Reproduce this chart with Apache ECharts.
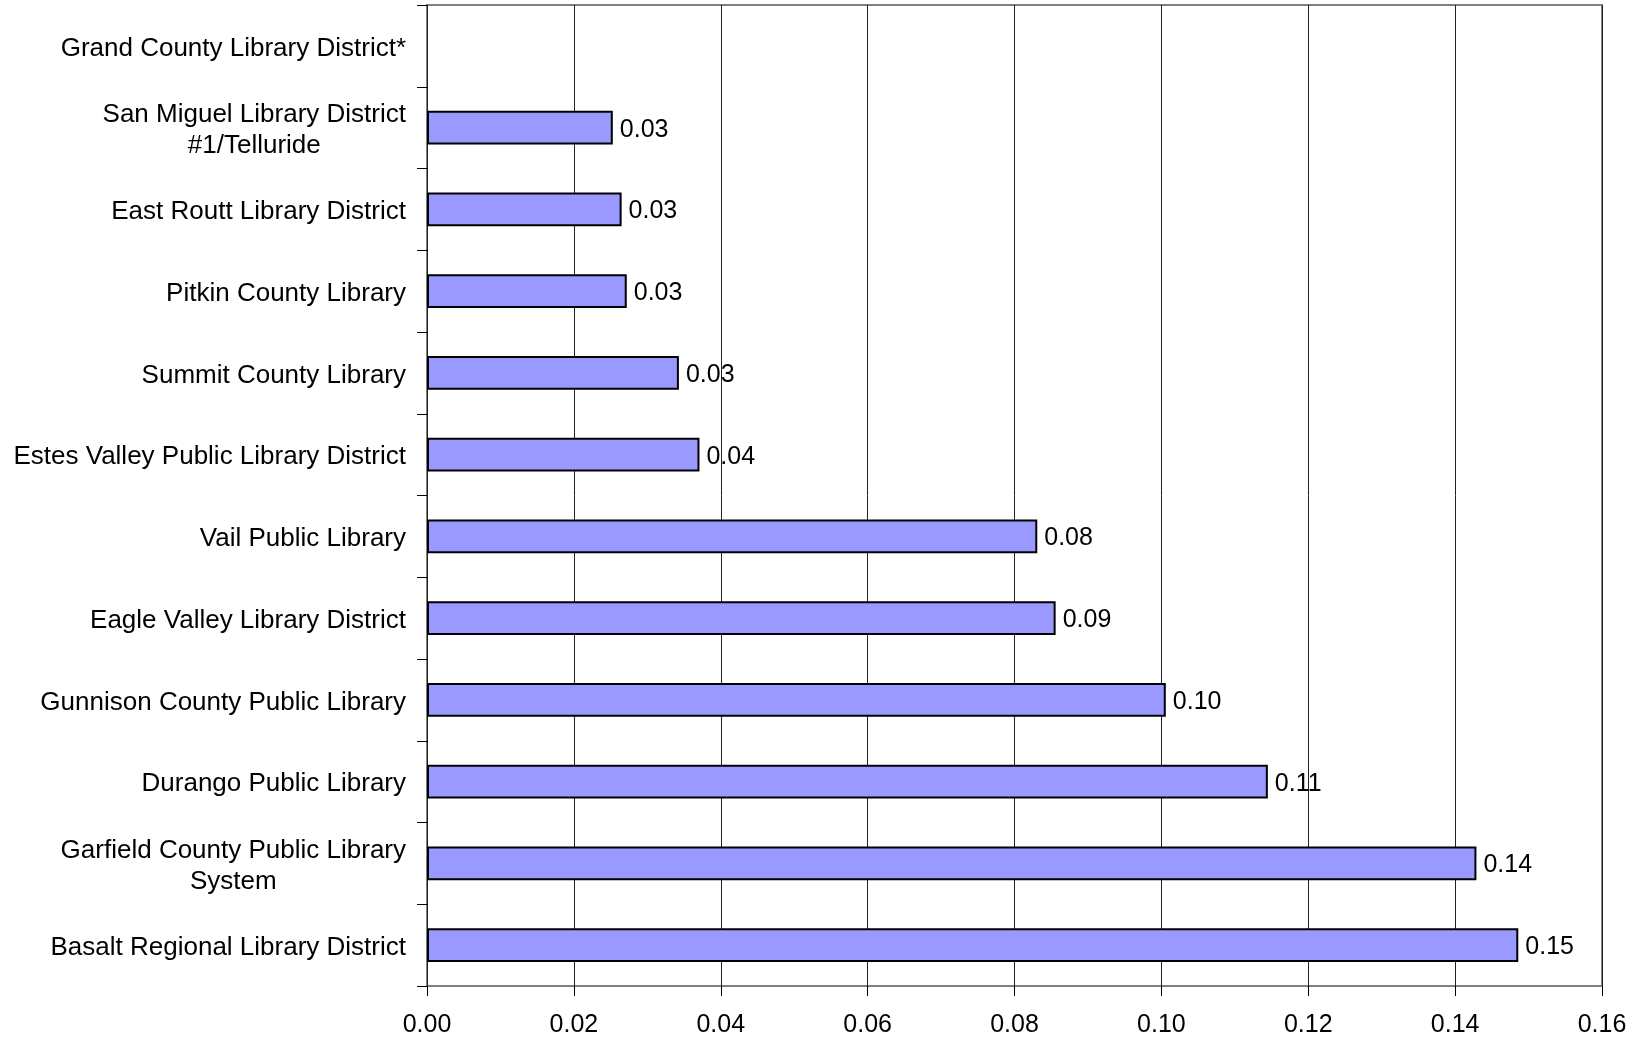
<!DOCTYPE html>
<html>
<head>
<meta charset="utf-8">
<script src="https://cdn.jsdelivr.net/npm/echarts@6/dist/echarts.min.js"></script>
<style>
html,body{margin:0;padding:0;background:#fff;}
#chart{width:1637px;height:1039px;}
</style>
</head>
<body>
<div id="chart"></div>
<script>
const categories = [
  "Grand County Library District*",
  "San Miguel Library District\n#1/Telluride",
  "East Routt Library District",
  "Pitkin County Library",
  "Summit County Library",
  "Estes Valley Public Library District",
  "Vail Public Library",
  "Eagle Valley Library District",
  "Gunnison County Public Library",
  "Durango Public Library",
  "Garfield County Public Library\nSystem",
  "Basalt Regional Library District"
];
const values = [null, 0.0253, 0.0265, 0.0272, 0.0343, 0.0371, 0.0831, 0.0856, 0.1006, 0.1145, 0.1429, 0.1486];
const xTicks = { min: 0, max: 0.16, interval: 0.02 };

const FONT = "'Liberation Sans', Arial, sans-serif";
const chart = echarts.init(document.getElementById('chart'));
chart.setOption({
  animation: false,
  backgroundColor: '#fff',
  grid: {
    left: 427, right: 35, top: 5, bottom: 53,
    show: true, borderColor: '#808080', borderWidth: 2, backgroundColor: 'transparent'
  },
  xAxis: {
    type: 'value',
    min: xTicks.min, max: xTicks.max, interval: xTicks.interval,
    axisLine: { show: false },
    axisTick: { show: true, length: 10, lineStyle: { color: '#000', width: 1 } },
    splitLine: { show: true, lineStyle: { color: '#222', width: 1 } },
    axisLabel: {
      margin: 27, fontSize: 25, color: '#000', fontFamily: FONT,
      formatter: v => v.toFixed(2)
    }
  },
  yAxis: {
    type: 'category',
    inverse: true,
    data: categories,
    axisLine: { show: false },
    axisTick: { show: true, length: 10, lineStyle: { color: '#000', width: 1 } },
    splitLine: { show: false },
    axisLabel: {
      margin: 21, fontSize: 26, color: '#000', fontFamily: FONT,
      padding: [5, 0, 0, 0],
      formatter: v => v.indexOf('\n') >= 0 ? v.split('\n').map(l => '{c|' + l + '}').join('\n') : v,
      rich: { c: { align: 'center', fontSize: 26, lineHeight: 31, color: '#000', fontFamily: FONT } }
    }
  },
  series: [{
    type: 'bar',
    data: values,
    barWidth: '41%',
    itemStyle: { color: '#9999FF', borderColor: '#000', borderWidth: 2 },
    label: {
      show: true, position: 'right', distance: 7, offset: [0, 2],
      fontSize: 25, color: '#000', fontFamily: FONT,
      formatter: p => p.value == null ? '' : p.value.toFixed(2)
    }
  }]
});
</script>
</body>
</html>
